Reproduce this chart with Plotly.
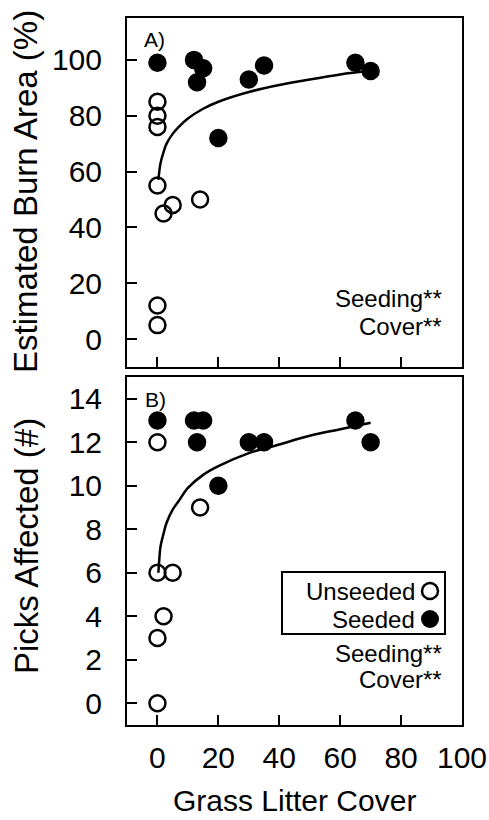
import plotly.graph_objects as go

# ---------------- data ----------------
# Panel A: Estimated Burn Area (%)
a_unseeded_x = [0, 0, 0, 0, 2, 5, 14, 0, 0]
a_unseeded_y = [85, 80, 76, 55, 45, 48, 50, 12, 5]
a_seeded_x = [0, 12, 15, 13, 20, 30, 35, 65, 70]
a_seeded_y = [99, 100, 97, 92, 72, 93, 98, 99, 96]

# Panel B: Picks Affected (#)
b_unseeded_x = [0, 14, 0, 5, 2, 0, 0]
b_unseeded_y = [12, 9, 6, 6, 4, 3, 0]
b_seeded_x = [0, 12, 15, 13, 20, 30, 35, 65, 70]
b_seeded_y = [13, 13, 13, 12, 10, 12, 12, 13, 12]

# fitted curves
curve_x = [0.3, 0.6, 1, 2, 3, 5, 7, 10, 15, 20, 30, 40, 50, 60, 70]
a_curve_y = [57, 60, 63, 67, 70, 73.5, 76, 79, 82.5, 85, 88.5, 91, 93, 94.8, 96.2]
b_curve_y = [6.0, 6.6, 7.2, 7.8, 8.3, 8.9, 9.3, 9.9, 10.5, 10.9, 11.5, 11.9, 12.3, 12.6, 12.9]

x_ticks = [0, 20, 40, 60, 80, 100]
a_ticks = [0, 20, 40, 60, 80, 100]
b_ticks = [0, 2, 4, 6, 8, 10, 12, 14]

# ---------------- layout helpers ----------------
W, H = 489, 820
L, R, T, B = 127, 462, 18, 725
def fx(px):
    return (px - L) / (R - L)
def fy(py):
    return (B - py) / (B - T)

FONT = "Arial, Liberation Sans, sans-serif"
TOP_BOTTOM = fy(367)
BOT_TOP = fy(377)

open_marker = dict(symbol="circle-open", size=16, color="black", line=dict(width=2.5, color="black"))
fill_marker = dict(symbol="circle", size=17, color="black", line=dict(width=1.5, color="black"))
curve_line = dict(color="black", width=2.5, shape="spline")

fig = go.Figure()
# panel A
fig.add_trace(go.Scatter(x=curve_x, y=a_curve_y, mode="lines", line=curve_line,
                         xaxis="x", yaxis="y", showlegend=False, hoverinfo="skip"))
fig.add_trace(go.Scatter(x=a_unseeded_x, y=a_unseeded_y, mode="markers", marker=open_marker,
                         name="Unseeded", xaxis="x", yaxis="y", showlegend=False))
fig.add_trace(go.Scatter(x=a_seeded_x, y=a_seeded_y, mode="markers", marker=fill_marker,
                         name="Seeded", xaxis="x", yaxis="y", showlegend=False))
# panel B
fig.add_trace(go.Scatter(x=curve_x, y=b_curve_y, mode="lines", line=curve_line,
                         xaxis="x2", yaxis="y2", showlegend=False, hoverinfo="skip"))
fig.add_trace(go.Scatter(x=b_unseeded_x, y=b_unseeded_y, mode="markers", marker=open_marker,
                         name="Unseeded", xaxis="x2", yaxis="y2", showlegend=False))
fig.add_trace(go.Scatter(x=b_seeded_x, y=b_seeded_y, mode="markers", marker=fill_marker,
                         name="Seeded", xaxis="x2", yaxis="y2", showlegend=False))

axis_common = dict(showline=True, linecolor="black", linewidth=2, mirror=True,
                   ticks="inside", ticklen=10, tickwidth=2, tickcolor="black",
                   showgrid=False, zeroline=False, automargin=False,
                   tickfont=dict(family=FONT, size=30, color="black"))

fig.update_layout(
    width=W, height=H,
    margin=dict(l=L, r=W - R, t=T, b=H - B),
    paper_bgcolor="white", plot_bgcolor="white",
    showlegend=False,
    xaxis=dict(domain=[0, 1], anchor="y", range=[-10, 100], tickvals=x_ticks,
               showticklabels=False, **axis_common),
    yaxis=dict(domain=[TOP_BOTTOM, 1], anchor="x", range=[-10, 115], tickvals=a_ticks,
               ticklabelstandoff=17, **axis_common),
    xaxis2=dict(domain=[0, 1], anchor="y2", range=[-10, 100], tickvals=x_ticks,
                ticklabelstandoff=5, **axis_common),
    yaxis2=dict(domain=[0, BOT_TOP], anchor="x2", range=[-1, 15], tickvals=b_ticks,
                ticklabelstandoff=17, **axis_common),
)

ann = []
def text(s, x, y, size, xanchor="left", angle=0):
    ann.append(dict(text=s, x=x, y=y, xref="paper", yref="paper", showarrow=False,
                    xanchor=xanchor, yanchor="middle", textangle=angle,
                    font=dict(family=FONT, size=size, color="black")))

text("A)", fx(142), fy(40), 21)
text("B)", fx(143), fy(399), 21)
text("Seeding**", fx(444), fy(298), 24, "right")
text("Cover**", fx(444), fy(326), 24, "right")
text("Seeding**", fx(444), fy(653), 24, "right")
text("Cover**", fx(444), fy(679), 24, "right")
text("Unseeded", fx(417), fy(591), 24, "right")
text("Seeded", fx(417), fy(619), 24, "right")
text("Estimated Burn Area (%)", fx(26), fy(192), 33, "center", -90)
text("Picks Affected (#)", fx(26), fy(546), 33, "center", -90)
text("Grass Litter Cover", fx(294), fy(800), 30, "center")
fig.update_layout(annotations=ann)

shapes = [
    dict(type="rect", xref="paper", yref="paper", x0=fx(282), x1=fx(445), y0=fy(634), y1=fy(572),
         line=dict(color="black", width=2), fillcolor="rgba(0,0,0,0)"),
    dict(type="circle", xref="paper", yref="paper", xsizemode="pixel", ysizemode="pixel",
         xanchor=fx(430), yanchor=fy(591), x0=-8, x1=8, y0=-8, y1=8,
         line=dict(color="black", width=2.5), fillcolor="white"),
    dict(type="circle", xref="paper", yref="paper", xsizemode="pixel", ysizemode="pixel",
         xanchor=fx(430), yanchor=fy(619), x0=-9, x1=9, y0=-9, y1=9,
         line=dict(color="black", width=0), fillcolor="black"),
]
fig.update_layout(shapes=shapes)

fig.write_html("out.html", config={"displayModeBar": False},
               post_script="document.body.style.margin='0px';document.body.style.overflow='hidden';")
